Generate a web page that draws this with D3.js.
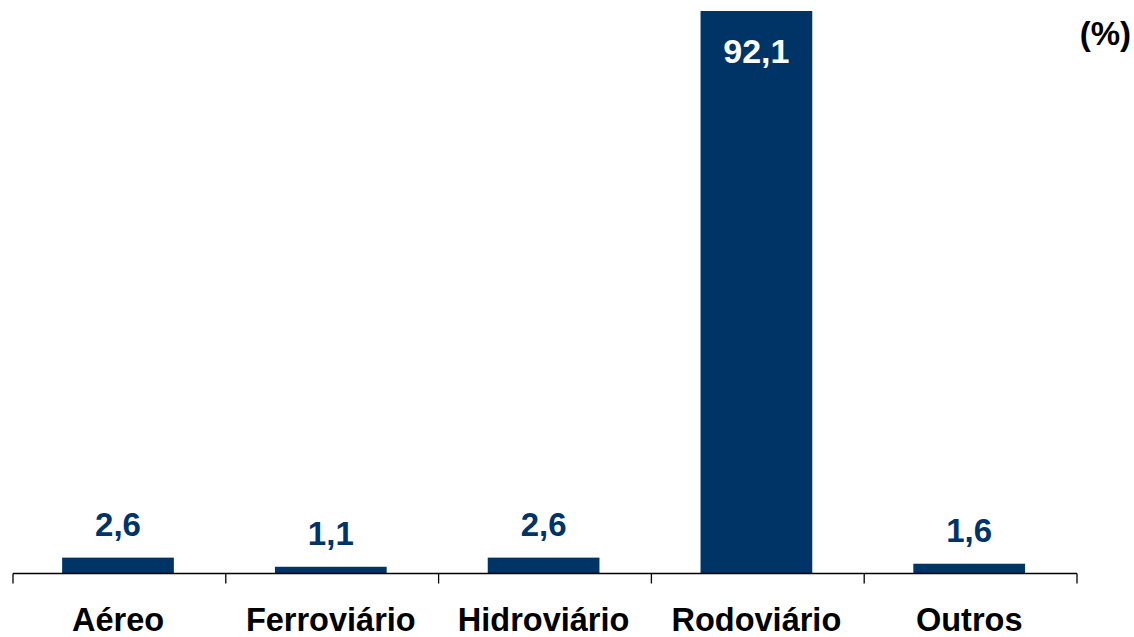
<!DOCTYPE html>
<html><head><meta charset="utf-8">
<script src="https://cdn.jsdelivr.net/npm/d3@7"></script>
<style>body{margin:0;background:#fff}svg{display:block}</style>
</head><body>
<script>
const categories = ["Aéreo","Ferroviário","Hidroviário","Rodoviário","Outros"];
const values = [2.6, 1.1, 2.6, 92.1, 1.6];
const valueLabels = ["2,6","1,1","2,6","92,1","1,6"];
const unitLabel = "(%)";

const W = 1134, H = 637;
const svg = d3.select("body").append("svg").attr("width", W).attr("height", H);
const x = d3.scaleBand().domain(categories).range([11.6, 1075.6]).paddingInner(0.475).paddingOuter(0.2375);
const y = d3.scaleLinear().domain([0, 92.1]).range([573.5, 11]);
const font = "'Liberation Sans', Arial, sans-serif";
const col = "#003366";

svg.selectAll("rect.bar").data(categories).join("rect")
  .attr("x", d => x(d)).attr("width", x.bandwidth())
  .attr("y", (d,i) => y(values[i])).attr("height", (d,i) => y(0) - y(values[i]))
  .attr("fill", col);

// axis
const axisG = svg.append("g").attr("transform", `translate(0,${y(0)})`);
axisG.append("line").attr("x1", 13).attr("x2", 1077).attr("stroke", "#000").attr("stroke-width", 1.3);
const tickXs = d3.range(categories.length + 1).map(i => 13 + i * (1064 / categories.length));
axisG.selectAll("line.tick").data(tickXs).join("line")
  .attr("x1", d => d).attr("x2", d => d).attr("y1", 0).attr("y2", 10)
  .attr("stroke", "#000").attr("stroke-width", 1.3);

svg.selectAll("text.cat").data(categories).join("text")
  .attr("x", d => x(d) + x.bandwidth()/2).attr("y", 631)
  .attr("text-anchor", "middle").attr("font-family", font).attr("font-weight", "bold")
  .attr("font-size", 32.5).attr("fill", "#000").text(d => d);

svg.selectAll("text.val").data(categories).join("text")
  .attr("x", d => x(d) + x.bandwidth()/2)
  .attr("y", (d,i) => values[i] > 50 ? y(values[i]) + 52 : y(values[i]) - 21.5)
  .attr("text-anchor", "middle").attr("font-family", font).attr("font-weight", "bold")
  .attr("font-size", (d,i) => values[i] > 50 ? 34 : 33)
  .attr("fill", (d,i) => values[i] > 50 ? "#fff" : col)
  .text((d,i) => valueLabels[i]);

svg.append("text").attr("x", 1131).attr("y", 45).attr("text-anchor", "end")
  .attr("font-family", font).attr("font-weight", "bold").attr("font-size", 33)
  .attr("fill", "#000").text(unitLabel);
</script>
</body></html>
